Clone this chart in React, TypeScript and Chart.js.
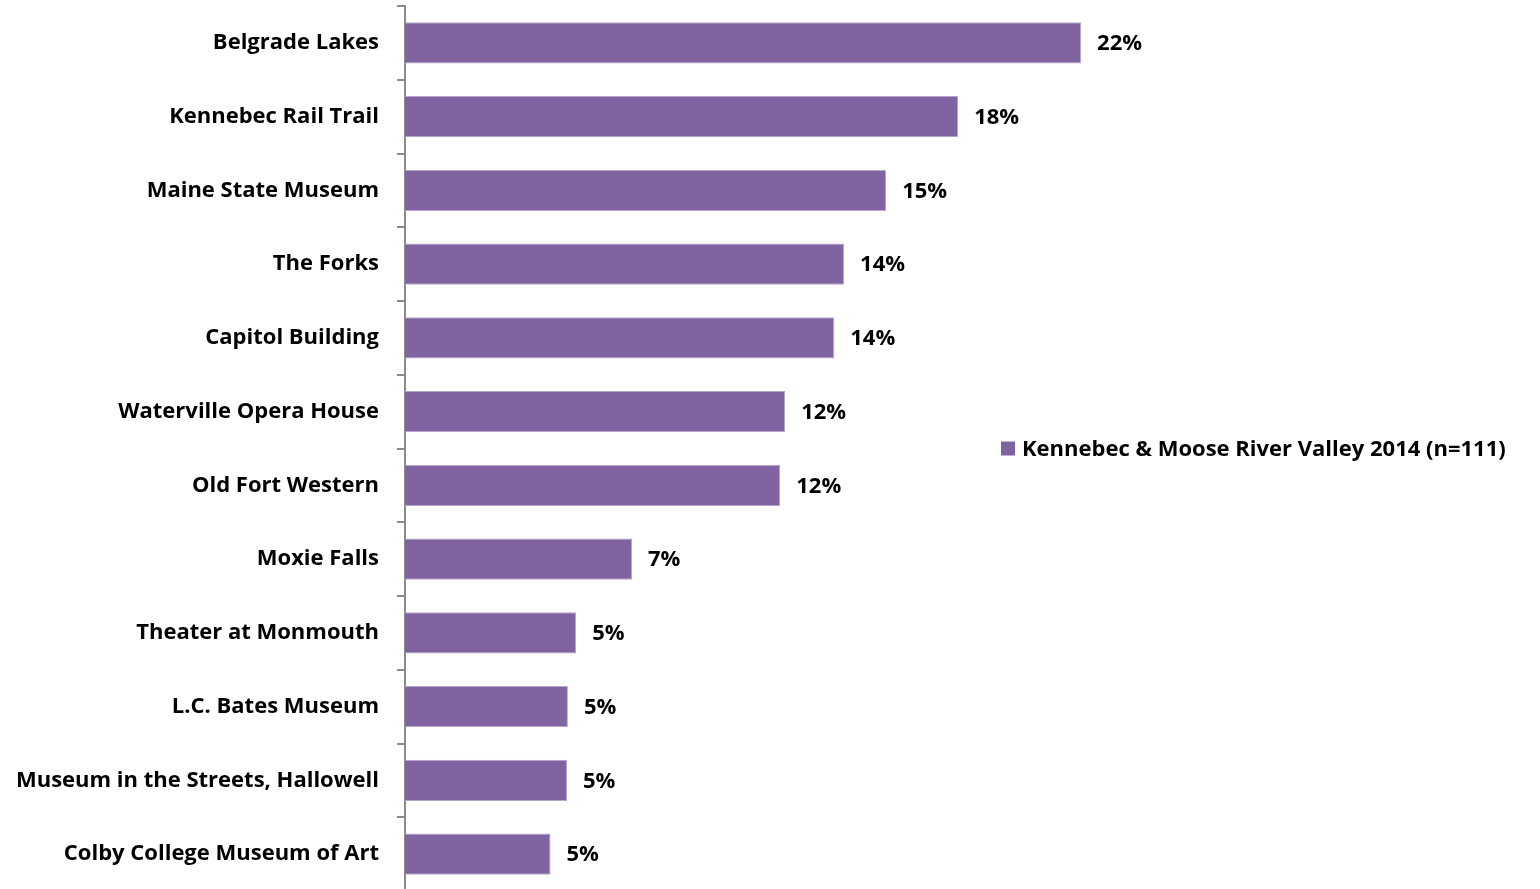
import React, { useEffect, useRef } from "react";
import { Chart, registerables } from "chart.js";

Chart.register(...registerables);

const categories = [
  "Belgrade Lakes",
  "Kennebec Rail Trail",
  "Maine State Museum",
  "The Forks",
  "Capitol Building",
  "Waterville Opera House",
  "Old Fort Western",
  "Moxie Falls",
  "Theater at Monmouth",
  "L.C. Bates Museum",
  "Museum in the Streets, Hallowell",
  "Colby College Museum of Art",
];
const values = [22.16, 18.13, 15.77, 14.39, 14.07, 12.46, 12.3, 7.44, 5.61, 5.34, 5.31, 4.77];
const valueLabels = ["22%", "18%", "15%", "14%", "14%", "12%", "12%", "7%", "5%", "5%", "5%", "5%"];
const seriesName = "Kennebec & Moose River Valley 2014 (n=111)";
const xMax = 37.2;

const FONT = "'Open Sans', sans-serif";
const FONT_SIZE = 22;
const BAR = "#8064A2";

const labelPlugin = {
  id: "valueLabels",
  afterDatasetsDraw(chart: any) {
    const ctx = chart.ctx;
    const meta = chart.getDatasetMeta(0);
    ctx.save();
    ctx.font = `bold ${FONT_SIZE}px ${FONT}`;
    ctx.fillStyle = "#000";
    ctx.textAlign = "left";
    ctx.textBaseline = "middle";
    meta.data.forEach((bar: any, i: number) => {
      ctx.fillText(valueLabels[i], bar.x + 16, bar.y + 1);
    });
    ctx.restore();
  },
};

const legendPlugin = {
  id: "customLegend",
  afterDraw(chart: any) {
    const ctx = chart.ctx;
    const area = chart.chartArea;
    const cy = (area.top + area.bottom) / 2;
    ctx.save();
    ctx.fillStyle = BAR;
    ctx.fillRect(1001, cy - 7, 14, 14);
    ctx.font = `bold ${FONT_SIZE}px ${FONT}`;
    ctx.fillStyle = "#000";
    ctx.textAlign = "left";
    ctx.textBaseline = "middle";
    ctx.fillText(seriesName, 1022, cy + 1);
    ctx.restore();
  },
};

export default function App() {
  const ref = useRef<HTMLCanvasElement>(null);
  useEffect(() => {
    if (!ref.current) return;
    const chart = new Chart(ref.current, {
      type: "bar",
      data: {
        labels: categories,
        datasets: [
          {
            label: seriesName,
            data: values,
            backgroundColor: BAR,
            borderColor: "#b7a6cc",
            borderWidth: 1,
            barPercentage: 0.56,
            categoryPercentage: 1,
          },
        ],
      },
      options: {
        indexAxis: "y",
        responsive: false,
        animation: false,
        devicePixelRatio: 1,
        layout: { padding: { top: 6, bottom: 2, left: 0, right: 0 } },
        plugins: {
          legend: { display: false },
          tooltip: { enabled: false },
        },
        scales: {
          x: { display: false, min: 0, max: xMax },
          y: {
            afterFit: (scale: any) => {
              scale.width = 405;
              scale.paddingTop = 0;
              scale.paddingBottom = 0;
            },
            grid: {
              offset: true,
              drawOnChartArea: false,
              drawTicks: true,
              tickLength: 8,
              color: "#8c8c8c",
              lineWidth: 2,
            },
            border: { display: true, color: "#8c8c8c", width: 2 },
            ticks: {
              color: "#000",
              padding: 18,
              font: { family: FONT, size: FONT_SIZE, weight: "bold" },
            },
          },
        },
      },
      plugins: [labelPlugin, legendPlugin],
    });
    return () => chart.destroy();
  }, []);
  return (
    <div style={{ position: "absolute", left: 0, top: 0, width: 1540, height: 889, overflow: "hidden", background: "#fff" }}>
      <canvas ref={ref} width={1540} height={893} />
    </div>
  );
}
